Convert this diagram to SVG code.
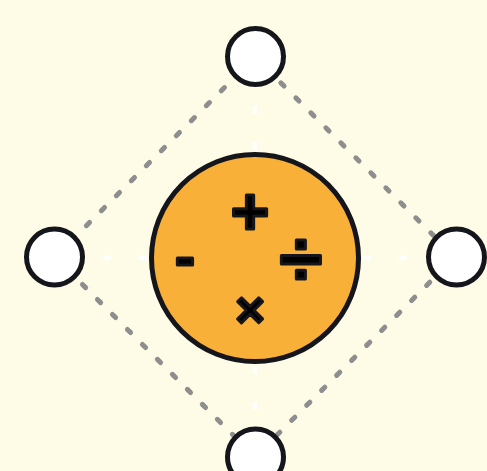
<svg xmlns="http://www.w3.org/2000/svg" width="487" height="471" viewBox="0 0 487 471">
  <style>
    .diag { stroke: #8e8e8e; stroke-width: 5; stroke-linecap: round; stroke-dasharray: 4.5 16.7; fill: none; }
    .spoke { stroke: #ffffff; stroke-width: 4.5; stroke-dasharray: 8 28; fill: none; }
    .small { fill: #ffffff; stroke: #15161b; stroke-width: 5; }
    .big { fill: #f9b038; stroke: #15161b; stroke-width: 5; }
    .op { font-family: "Liberation Sans", Arial, sans-serif; font-weight: bold; fill: #000000; stroke: #15161b; stroke-width: 3; stroke-linejoin: round; text-anchor: middle; }
  </style>
  <rect x="0" y="0" width="487" height="471" fill="#fefbe6"/>
  <g id="connectors">
    <line class="spoke" x1="255" y1="258" x2="55" y2="258"/>
    <line class="spoke" x1="255" y1="258" x2="456" y2="258"/>
    <line class="spoke" x1="255" y1="258" x2="255" y2="57"/>
    <line class="spoke" x1="255" y1="258" x2="255" y2="457"/>
    <line class="diag" x1="255" y1="57" x2="55" y2="257" stroke-dashoffset="20.4"/>
    <line class="diag" x1="255" y1="57" x2="455" y2="257" stroke-dashoffset="5.8"/>
    <line class="diag" x1="55" y1="257" x2="255" y2="457" stroke-dashoffset="3.6"/>
    <line class="diag" x1="455" y1="257" x2="255" y2="457" stroke-dashoffset="6.7"/>
  </g>
  <g id="center">
    <circle class="big" cx="255" cy="258" r="103.5"/>
    <text class="op" x="250" y="234" font-size="66">+</text>
    <text class="op" x="185" y="277" font-size="60">-</text>
    <text class="op" x="301" y="285" font-size="78">÷</text>
    <text class="op" x="250" y="327" font-size="50">×</text>
  </g>
  <g id="node-top"><circle class="small" cx="255.5" cy="56.5" r="28"/></g>
  <g id="node-left"><circle class="small" cx="54.5" cy="257" r="28"/></g>
  <g id="node-right"><circle class="small" cx="456.5" cy="257" r="28"/></g>
  <g id="node-bottom"><circle class="small" cx="255.5" cy="457" r="28"/></g>
</svg>
